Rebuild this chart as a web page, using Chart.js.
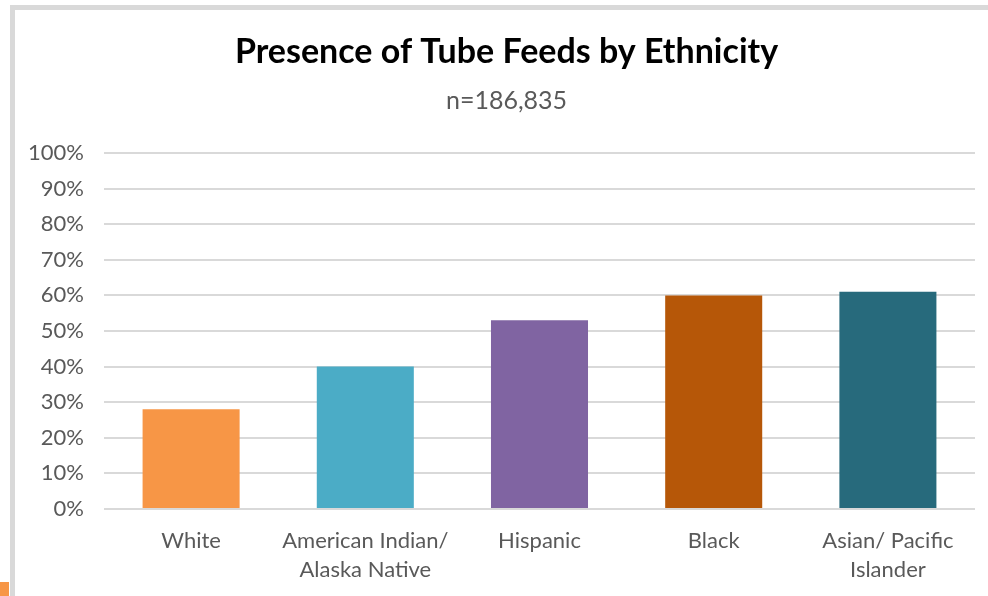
<!DOCTYPE html>
<html lang="en">

<head>
    <meta charset="UTF-8">
    <meta name="viewport" content="width=device-width, initial-scale=1.0">
    <script src="https://cdn.jsdelivr.net/npm/chart.js"></script>
    <title>Presence of Tube Feeds by Ethnicity</title>
    <style>
        html, body {
            margin: 0;
            padding: 0;
            background: #fff;
            overflow: hidden;
        }
        .moldura {
            position: absolute;
            left: 10px;
            top: 5px;
            width: 1000px;
            height: 620px;
            border-top: 5px solid #d9d9d9;
            border-left: 5px solid #d9d9d9;
        }
        .marca {
            position: absolute;
            left: 0;
            top: 582px;
            width: 9px;
            height: 14px;
            background: #f79646;
        }
        .grafico {
            position: absolute;
            left: 0;
            top: 0;
            width: 988px;
            height: 596px;
        }
    </style>
</head>

<body>
    <div class="moldura"></div>
    <div class="marca"></div>
    <div class="grafico">
        <canvas id="grafico_barra"></canvas>
    </div>
</body>

</html>

<script>
    const etnias = [
        'White',
        ['American Indian/', 'Alaska Native'],
        'Hispanic',
        'Black',
        ['Asian/ Pacific', 'Islander'],
    ];

    const percentuais = [28, 40, 53, 60, 61];

    const cores = ['#f79646', '#4bacc6', '#8064a2', '#b65708', '#276a7c'];

    const ticksY = [0, 10, 20, 30, 40, 50, 60, 70, 80, 90, 100];

    const fonte = 'Lato, "Open Sans", sans-serif';

    // empurra o titulo e o subtitulo um pouco para a direita
    const centraTitulo = {
        id: 'centraTitulo',
        afterLayout(chart) {
            chart.boxes.forEach(b => {
                if (b.position === 'top' && b.options && b.options.text !== undefined) {
                    b.left = 38;
                }
            });
        }
    };

    const dataBarra = {
        labels: etnias,
        datasets: [{
            label: 'Tube feeds',
            backgroundColor: cores,
            borderWidth: 0,
            data: percentuais,
            categoryPercentage: 1,
            barPercentage: 0.557,
        }]
    };

    const configBarra = {
        type: 'bar',
        data: dataBarra,
        plugins: [centraTitulo],
        options: {
            responsive: true,
            maintainAspectRatio: false,
            animation: false,
            layout: {
                padding: { left: 0, right: 13, top: 0, bottom: 0 }
            },
            plugins: {
                legend: { display: false },
                tooltip: { enabled: false },
                title: {
                    display: true,
                    text: 'Presence of Tube Feeds by Ethnicity',
                    color: '#000',
                    font: { family: fonte, size: 34, weight: 'bold', lineHeight: 1.2 },
                    padding: { top: 31.6, bottom: 13.6 }
                },
                subtitle: {
                    display: true,
                    text: 'n=186,835',
                    color: '#595959',
                    font: { family: fonte, size: 25, lineHeight: 1.2 },
                    padding: { top: 0, bottom: 37 }
                }
            },
            scales: {
                x: {
                    grid: { display: false },
                    border: { display: false },
                    ticks: {
                        color: '#595959',
                        font: { family: fonte, size: 22, lineHeight: 1.32 },
                        padding: 9,
                        maxRotation: 0,
                    },
                    afterFit: function (scale) {
                        scale.height = 596 - 509;
                    }
                },
                y: {
                    min: 0,
                    max: 100,
                    grid: { color: '#d9d9d9', lineWidth: 2, drawTicks: false },
                    border: { display: false },
                    afterBuildTicks: function (scale) {
                        scale.ticks = ticksY.map(v => ({ value: v }));
                    },
                    ticks: {
                        color: '#595959',
                        font: { family: fonte, size: 22 },
                        padding: 20,
                        callback: v => v + '%'
                    },
                    afterFit: function (scale) {
                        scale.width = 104;
                    }
                }
            }
        }
    };
</script>

<script>
    const grafico_barra = new Chart(
        document.getElementById('grafico_barra'),
        configBarra
    );
</script>
